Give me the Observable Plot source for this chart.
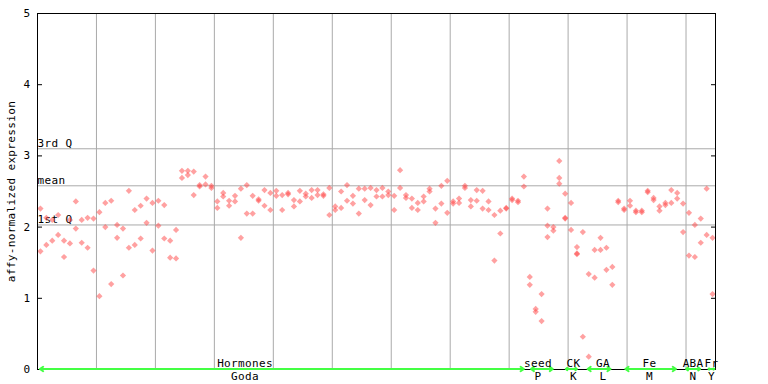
<!DOCTYPE html>
<html><head><meta charset="utf-8">
<script src="https://cdn.jsdelivr.net/npm/d3@7"></script>
<script src="https://cdn.jsdelivr.net/npm/@observablehq/plot@0.6"></script>
<style>body{margin:0;background:#fff} svg{display:block}</style>
</head><body><div id="chart"></div>
<script>
// replicate values per sample (sample i plotted at i + 0.5)
const highRep = [2.26,2.13,2.10,2.17,1.81,2.10,2.36,2.10,2.13,2.12,
  2.21,2.34,2.37,2.03,1.98,2.51,2.24,2.30,2.40,2.34,
  2.37,2.31,1.81,1.96,2.79,2.79,2.78,2.59,2.71,2.58,
  2.36,2.48,2.37,2.44,2.54,2.59,2.44,2.39,2.52,2.48,
  2.51,2.45,2.48,2.38,2.51,2.47,2.52,2.52,2.46,2.55,
  2.29,2.50,2.59,2.44,2.54,2.54,2.55,2.52,2.55,2.50,
  2.44,2.80,2.45,2.40,2.34,2.43,2.54,2.26,2.58,2.65,
  2.36,2.40,2.58,2.38,2.52,2.51,2.36,2.17,2.23,2.27,
  2.40,2.37,2.71,1.30,0.85,1.06,2.26,2.00,2.93,2.47,
  2.34,1.72,1.93,1.34,1.68,1.85,1.71,1.44,2.37,2.26,
  2.37,2.23,2.23,2.51,2.41,2.29,2.34,2.52,2.48,2.33,
  2.20,2.03,2.12,2.54,1.85];
const lowRep = [1.66,1.75,1.81,1.89,1.58,1.77,1.98,1.78,1.71,1.39,
  1.03,2.00,1.20,1.85,1.32,1.71,1.75,1.84,2.06,1.67,
  2.02,1.84,1.57,1.56,2.69,2.73,2.45,2.57,2.60,2.55,
  2.27,2.43,2.30,2.36,1.85,2.19,2.19,2.37,2.30,2.24,
  2.44,2.24,2.46,2.29,2.36,2.43,2.41,2.45,2.44,2.17,
  2.24,2.27,2.37,2.33,2.19,2.38,2.31,2.43,2.43,2.45,
  2.24,2.55,2.41,2.27,2.24,2.36,2.50,2.06,2.33,2.20,
  2.33,2.34,2.55,2.29,2.37,2.26,2.24,1.53,1.91,2.26,
  2.38,2.35,2.57,1.19,0.81,0.68,1.86,1.95,2.69,2.13,
  1.96,1.63,0.46,0.18,1.29,1.68,1.40,1.19,2.35,2.24,
  2.30,2.21,2.21,2.49,2.38,2.23,2.31,2.34,2.40,1.93,
  1.60,1.58,1.78,1.89,1.06];
const extraIdx = [86, 88, 89, 91];
const extraVal = [2.02, 2.61, 2.12, 1.62];

const yTicks = [0, 1, 2, 3, 4, 5];
const gridX = [10, 20, 30, 40, 50, 60, 70, 80, 90, 100, 110];
const qNames = ["1st Q", "mean", "3rd Q"];
const qValues = [2.03, 2.58, 3.10];
const yLabel = "affy-normalized expression";

const groupNames = ["Hormones", "seed", "CK", "GA", "Fe", "ABA", "Fr"];
const groupCodes = ["Goda", "P", "K", "L", "M", "N", "Y"];
const groupLabelX = [35.2, 84.9, 90.9, 95.9, 103.8, 111.2, 114.3];
const groupFrom = [0.4, 83.7, 89.6, 93.3, 99.7, 110.0, 113.8];
const groupTo = [82.5, 87.4, 91.5, 97.2, 108.3, 112.4, 114.8];

const points = [];
highRep.forEach((v, i) => points.push({x: i + 0.5, y: v}));
lowRep.forEach((v, i) => points.push({x: i + 0.5, y: v}));
extraIdx.forEach((k, j) => points.push({x: k + 0.5, y: extraVal[j]}));

const quart = qNames.map((n, i) => ({name: n, y: qValues[i]}));
const groups = groupNames.map((n, i) => ({
  name: n, code: groupCodes[i], lx: groupLabelX[i],
  from: groupFrom[i], to: groupTo[i], mid: (groupFrom[i] + groupTo[i]) / 2
}));

const green = "#44ff44";
const chart = Plot.plot({
  width: 768, height: 384,
  marginLeft: 37, marginRight: 53, marginTop: 13, marginBottom: 15,
  style: {fontFamily: "'DejaVu Sans Mono', monospace", fontSize: "11px", background: "#fff", color: "#000", overflow: "visible", letterSpacing: "0.35px"},
  x: {domain: [0, 115], axis: null},
  y: {domain: [0, 5], axis: null},
  marks: [
    Plot.ruleX(gridX, {stroke: "#aaa", strokeOpacity: 1}),
    Plot.ruleY(quart, {y: "y", stroke: "#aaa", strokeOpacity: 1}),
    Plot.text(quart, {x: 0, y: "y", text: "name", textAnchor: "start", lineAnchor: "bottom", dy: -2, dx: 0}),
    Plot.dot(points, {x: "x", y: "y", symbol: "diamond2", r: 2.8, fill: "#ff4444", fillOpacity: 0.5, stroke: "none"}),
    Plot.frame({stroke: "#000"}),
    Plot.axisY(yTicks, {anchor: "left", tickSize: -5, tickPadding: 12, tickFormat: d => String(d), label: null}),
    Plot.axisY(yTicks, {anchor: "right", tickSize: -5, tickFormat: () => "", label: null}),
    Plot.arrow(groups, {x1: "mid", x2: "from", y1: 0, y2: 0, stroke: green, strokeWidth: 2, headLength: 3, headAngle: 70, dy: -0.5}),
    Plot.arrow(groups, {x1: "mid", x2: "to", y1: 0, y2: 0, stroke: green, strokeWidth: 2, headLength: 3, headAngle: 70, dy: -0.5}),
    Plot.text(groups, {x: "lx", y: 0, text: "name", lineAnchor: "bottom", dy: -2.5}),
    Plot.text(groups, {x: "lx", y: 0, text: "code", lineAnchor: "top", dy: 3}),
    Plot.text([yLabel], {frameAnchor: "left", textAnchor: "middle", rotate: -90, dx: -26})
  ]
});
document.getElementById("chart").appendChild(chart);
</script>
</body></html>
